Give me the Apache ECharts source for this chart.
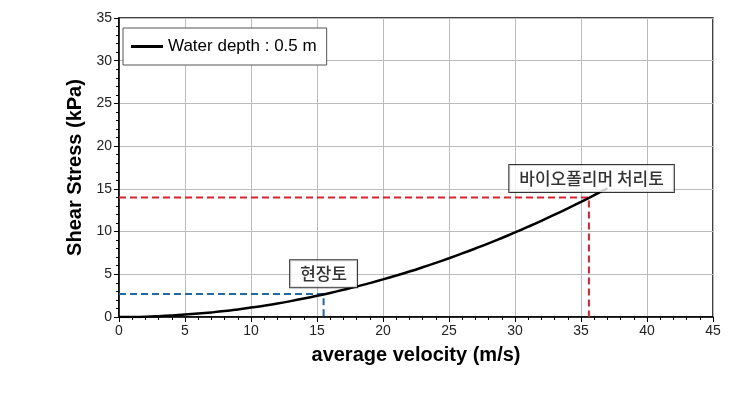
<!DOCTYPE html>
<html><head><meta charset="utf-8">
<script src="https://cdn.jsdelivr.net/npm/echarts@6/dist/echarts.min.js"></script>
<style>html,body{margin:0;padding:0;background:#fff}#c{width:742px;height:417px}</style>
</head><body><div id="c"></div>
<script>
const velocity = [0,1,2,3,4,5,6,7,8,9,10,11,12,13,14,15,16,17,18,19,20,21,22,23,24,25,26,27,28,29,30,31,32,33,34,35,36,37];
const shearStress = [0,0.01,0.04,0.10,0.18,0.28,0.40,0.54,0.70,0.89,1.10,1.33,1.58,1.86,2.16,2.48,2.82,3.18,3.56,3.97,4.40,4.85,5.32,5.82,6.34,6.88,7.44,8.02,8.62,9.25,9.90,10.57,11.26,11.98,12.72,13.48,14.26,15.06];
const siteSoil = {name:'현장토', v:15.5, tau:2.7, labelAt:[15.5,5.05]};
const treatedSoil = {name:'바이오폴리머 처리토', v:35.6, tau:14.0, labelAt:[35.8,16.2]};
const seriesName = 'Water depth : 0.5 m';

const font = 'Liberation Sans, Arial, sans-serif';
function guide(p, color){
  return {type:'line', data:[[0,p.tau],[p.v,p.tau],[p.v,0]], symbol:'none', silent:true,
    lineStyle:{color:color, width:2, type:[7,4]}, z:3};
}
function tag(p){
  return {type:'scatter', data:[p.labelAt], symbolSize:0, silent:true, z:10,
    label:{show:true, position:'inside', formatter:p.name, color:'#000',
      fontFamily:'Noto Sans CJK KR', fontSize:17, fontWeight:500,
      backgroundColor:'#fff', borderColor:'#000', borderWidth:1, padding:[5,10,5,10]}};
}
const chart = echarts.init(document.getElementById('c'));
chart.setOption({
  animation:false,
  grid:{left:119, right:29, top:18, bottom:100, show:true, borderColor:'#000', borderWidth:1.5, backgroundColor:'transparent'},
  legend:{data:[{name:seriesName, icon:'rect'}], left:123, top:28, orient:'vertical', backgroundColor:'#fff',
    borderColor:'#555', borderWidth:1, padding:[10,10,10,8], itemWidth:32, itemHeight:3, itemGap:0,
    textStyle:{fontFamily:font, fontSize:17, color:'#000'}},
  xAxis:{type:'value', min:0, max:45, interval:5,
    name:'average velocity (m/s)', nameLocation:'middle', nameGap:28,
    nameTextStyle:{fontFamily:font, fontSize:20, fontWeight:'bold', color:'#000'},
    axisLine:{lineStyle:{color:'#000', width:1.5}},
    axisTick:{show:true, length:5, lineStyle:{color:'#000'}},
    minorTick:{show:true, splitNumber:5, length:3, lineStyle:{color:'#000'}},
    axisLabel:{fontFamily:font, fontSize:14, color:'#222', margin:7},
    splitLine:{show:true, lineStyle:{color:'#bbb', width:1}}},
  yAxis:{type:'value', min:0, max:35, interval:5,
    name:'Shear Stress (kPa)', nameLocation:'middle', nameGap:33,
    nameTextStyle:{fontFamily:font, fontSize:20, fontWeight:'bold', color:'#000'},
    axisLine:{show:true, lineStyle:{color:'#000', width:1.5}},
    axisTick:{show:true, length:5, lineStyle:{color:'#000'}},
    minorTick:{show:true, splitNumber:5, length:3, lineStyle:{color:'#000'}},
    axisLabel:{fontFamily:font, fontSize:14, color:'#222', margin:7},
    splitLine:{show:true, lineStyle:{color:'#bbb', width:1}}},
  series:[
    guide(siteSoil,'#1f6aa5'),
    guide(treatedSoil,'#e0202a'),
    {name:seriesName, type:'line', data:velocity.map((v,i)=>[v,shearStress[i]]), symbol:'none', smooth:true,
      lineStyle:{color:'#000', width:2.5}, itemStyle:{color:'#000'}, z:5},
    tag(siteSoil), tag(treatedSoil)
  ]
});
</script></body></html>
